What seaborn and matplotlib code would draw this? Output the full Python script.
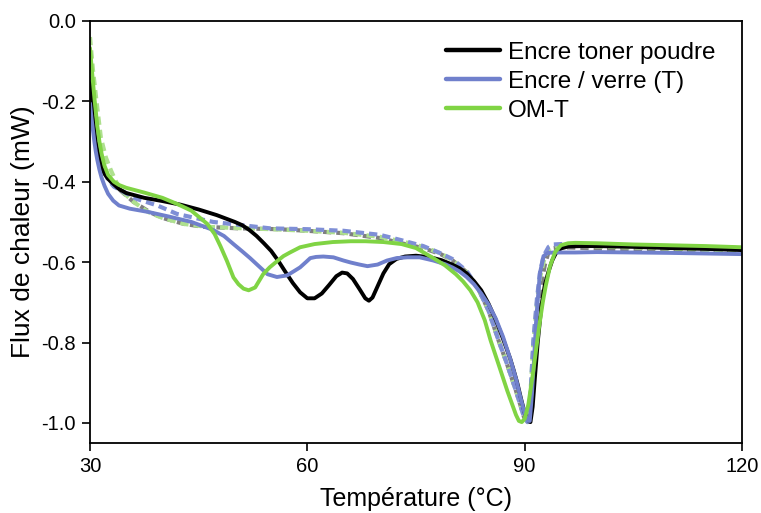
import numpy as np
import pandas as pd
import matplotlib
matplotlib.use("Agg")
import matplotlib.pyplot as plt
import seaborn as sns
from matplotlib.lines import Line2D

# ---- data ----
toner_x = [30, 30.2, 30.4, 30.6, 30.8, 31.0, 31.3, 31.6, 32.0, 32.5, 33.2, 34, 35, 37.5, 40, 42.5, 45,
           47.5, 50, 51, 52, 53, 54, 55, 56, 57, 58, 59, 60, 61, 62, 63, 64, 64.8, 65.5, 66.3, 67.2,
           68, 68.5, 69, 69.7, 70.5, 71.3, 72.3, 73.5, 75, 77, 78.5, 80, 81, 82, 83, 84, 85, 86, 87,
           88, 88.5, 89, 89.5, 90, 90.5, 90.8, 91.1, 91.4, 91.8, 92.3, 92.8, 93.3, 93.8, 94.3, 95,
           96, 98, 100, 105, 110, 115, 120]
toner_y = [-0.155, -0.2, -0.24, -0.275, -0.3, -0.32, -0.345, -0.365, -0.38, -0.393, -0.405, -0.418,
           -0.428, -0.44, -0.448, -0.457, -0.469, -0.483, -0.50, -0.508, -0.52, -0.535, -0.553,
           -0.572, -0.597, -0.625, -0.652, -0.675, -0.69, -0.69, -0.678, -0.657, -0.635, -0.626,
           -0.628, -0.642, -0.667, -0.69, -0.696, -0.688, -0.66, -0.628, -0.605, -0.592, -0.586,
           -0.584, -0.588, -0.595, -0.606, -0.615, -0.628, -0.647, -0.67, -0.703, -0.743, -0.79,
           -0.84, -0.87, -0.902, -0.94, -0.975, -0.995, -0.998, -0.96, -0.89, -0.80, -0.71, -0.655,
           -0.623, -0.596, -0.578, -0.566, -0.561, -0.56, -0.56, -0.562, -0.565, -0.567, -0.57]

verre_x = [30, 30.2, 30.4, 30.6, 30.8, 31, 31.3, 31.6, 32, 32.5, 33.2, 34, 35.5, 38, 41, 44, 45.5, 47,
           48.5, 49.8, 51, 52.1, 53.3, 54.5, 55.8, 57.2, 58.2, 59, 59.8, 60.4, 61.2, 62.2, 63.6, 65,
           66, 67.2, 68.3, 69.7, 71, 72.3, 73.8, 75.5, 77.4, 79, 80, 81, 82, 83, 84, 85, 86, 87, 88,
           88.8, 89.4, 89.9, 90.4, 90.7, 91.0, 91.3, 91.6, 92.1, 92.6, 93.2, 94, 95, 97, 100, 110, 120]
verre_y = [-0.205, -0.24, -0.27, -0.3, -0.325, -0.345, -0.37, -0.39, -0.41, -0.43, -0.447, -0.459,
           -0.467, -0.475, -0.487, -0.50, -0.51, -0.52, -0.535, -0.555, -0.573, -0.59, -0.61,
           -0.63, -0.637, -0.633, -0.622, -0.613, -0.6, -0.59, -0.587, -0.586, -0.588, -0.596,
           -0.601, -0.606, -0.61, -0.606, -0.596, -0.59, -0.588, -0.588, -0.596, -0.605, -0.613,
           -0.623, -0.637, -0.655, -0.678, -0.705, -0.74, -0.785, -0.84, -0.89, -0.935, -0.97,
           -0.995, -0.995, -0.93, -0.84, -0.74, -0.628, -0.585, -0.577, -0.576, -0.576, -0.576,
           -0.575, -0.577, -0.58]

omt_x = [30, 30.2, 30.4, 30.6, 30.8, 31, 31.3, 31.6, 32, 32.5, 33.3, 34, 35, 37.5, 40, 42, 44, 45.2,
         46.2, 47.2, 48, 48.9, 49.8, 50.5, 51.2, 51.9, 52.8, 53.9, 54.8, 55.8, 56.7, 57.6, 59, 61,
         63.5, 66, 68, 70.5, 73, 75, 77.4, 79, 80.5, 81.5, 82.5, 83.5, 84.5, 85.3, 86.5, 87.6, 88.3,
         88.8, 89.2, 89.6, 90.0, 90.5, 91.2, 92, 92.5, 92.9, 93.5, 94.2, 95, 96, 97, 100, 105, 110,
         115, 120]
omt_y = [-0.067, -0.11, -0.15, -0.19, -0.225, -0.26, -0.3, -0.33, -0.36, -0.383, -0.40, -0.408,
         -0.415, -0.427, -0.44, -0.455, -0.472, -0.49, -0.505, -0.53, -0.56, -0.597, -0.638, -0.655,
         -0.666, -0.67, -0.663, -0.63, -0.613, -0.598, -0.585, -0.576, -0.563, -0.555, -0.55,
         -0.548, -0.548, -0.55, -0.555, -0.565, -0.59, -0.608, -0.63, -0.648, -0.67, -0.70, -0.745,
         -0.795, -0.86, -0.92, -0.955, -0.98, -0.995, -0.998, -0.99, -0.955, -0.87, -0.76, -0.7,
         -0.66, -0.61, -0.575, -0.558, -0.553, -0.552, -0.553, -0.556, -0.558, -0.56, -0.563]

toner2_x = [30, 30.3, 30.7, 31.2, 31.8, 32.5, 33.3, 34.1, 36, 38.3, 40, 43, 45.6, 50.7, 56, 60, 65,
            70, 73, 76, 78.4, 80, 82, 83.5, 85, 86.4, 87.5, 88.8, 89.4, 89.9, 90.5, 90.9, 91.3, 91.8,
            92.3, 92.8, 93.3, 94, 95, 97, 100, 110, 120]
toner2_y = [-0.105, -0.17, -0.24, -0.31, -0.36, -0.39, -0.41, -0.42, -0.45, -0.476, -0.49, -0.505,
            -0.512, -0.516, -0.518, -0.522, -0.528, -0.54, -0.553, -0.565, -0.58, -0.595, -0.625,
            -0.663, -0.72, -0.795, -0.85, -0.92, -0.955, -0.985, -0.998, -0.95, -0.85, -0.74,
            -0.655, -0.605, -0.575, -0.565, -0.563, -0.564, -0.566, -0.571, -0.576]

verre2_x = [30, 30.3, 30.7, 31.2, 31.8, 32.5, 33.3, 34.6, 36.5, 39.3, 42, 47, 54.9, 60, 65, 70, 72.9,
            76, 78.4, 80, 82, 83.5, 85, 86.4, 87.5, 88.8, 89.4, 89.9, 90.4, 90.8, 91.2, 91.7, 92.1,
            92.6, 93.3, 94, 95, 97, 100, 110, 120]
verre2_y = [-0.147, -0.21, -0.27, -0.33, -0.37, -0.395, -0.412, -0.425, -0.443, -0.459, -0.48, -0.50,
            -0.516, -0.518, -0.522, -0.532, -0.545, -0.56, -0.578, -0.592, -0.622, -0.663, -0.72,
            -0.795, -0.85, -0.92, -0.955, -0.985, -0.998, -0.93, -0.795, -0.69, -0.628, -0.585,
            -0.562, -0.556, -0.555, -0.556, -0.557, -0.56, -0.565]

omt2_x = [30, 30.4, 30.9, 31.5, 32.2, 32.9, 33.6, 34.5, 36, 38, 40, 43, 46, 50, 55, 60, 65, 70, 73,
          76, 78.4, 80, 82, 83.5, 85, 86.4, 87.5, 88.8, 89.4, 89.9, 90.4, 90.8, 91.2, 91.7, 92.1,
          92.8, 93.5, 94.2, 95, 97, 100, 110, 120]
omt2_y = [-0.04, -0.12, -0.20, -0.29, -0.34, -0.372, -0.40, -0.425, -0.45, -0.475, -0.49, -0.505,
          -0.512, -0.515, -0.518, -0.522, -0.527, -0.537, -0.548, -0.562, -0.578, -0.595, -0.625,
          -0.663, -0.72, -0.795, -0.85, -0.92, -0.955, -0.985, -0.998, -0.93, -0.80, -0.70, -0.64,
          -0.585, -0.565, -0.56, -0.558, -0.559, -0.561, -0.566, -0.572]

labels = ["Encre toner poudre", "Encre / verre (T)", "OM-T"]
x_ticks = [30, 60, 90, 120]
y_ticks = [0.0, -0.2, -0.4, -0.6, -0.8, -1.0]

# ---- style ----
sns.set_style("ticks")
plt.rcParams["font.family"] = ["Liberation Sans", "DejaVu Sans"]
plt.rcParams["axes.unicode_minus"] = False
plt.rcParams["text.color"] = "#000000"
plt.rcParams["axes.labelcolor"] = "#000000"

c_black = "#000000"
c_blue = "#7080CC"
c_green = "#80D444"
c_gray_d = "#7F7F7F"
c_blue_d = "#7F8FD6"
c_green_d = "#AEE08E"

fig = plt.figure(figsize=(7.61, 5.13), dpi=100)
ax = fig.add_axes([90 / 761, 1 - 443 / 513, (742 - 90) / 761, (443 - 21) / 513])

dash_kw = dict(linewidth=3.0, dashes=(2.0, 1.2))
sns.lineplot(x=toner2_x, y=toner2_y, ax=ax, color=c_gray_d, sort=False, estimator=None, **dash_kw)
sns.lineplot(x=omt2_x, y=omt2_y, ax=ax, color=c_green_d, sort=False, estimator=None, **dash_kw)
sns.lineplot(x=verre2_x, y=verre2_y, ax=ax, color=c_blue_d, sort=False, estimator=None, **dash_kw)

solid_kw = dict(linewidth=2.8)
sns.lineplot(x=toner_x, y=toner_y, ax=ax, color=c_black, sort=False, estimator=None, **solid_kw)
sns.lineplot(x=verre_x, y=verre_y, ax=ax, color=c_blue, sort=False, estimator=None, **solid_kw)
sns.lineplot(x=omt_x, y=omt_y, ax=ax, color=c_green, sort=False, estimator=None, **solid_kw)

ax.set_xlim(30, 120)
ax.set_ylim(-1.05, 0.0)
ax.set_xticks(x_ticks)
ax.set_xticklabels([str(v) for v in x_ticks])
ax.set_yticks(y_ticks)
ax.set_yticklabels([f"{v:.1f}" for v in y_ticks])
ax.tick_params(axis="both", direction="out", length=6, width=1.2, labelsize=14.5, colors="#000000",
               pad=4)
for s in ax.spines.values():
    s.set_visible(True)
    s.set_color("#000000")
    s.set_linewidth(1.3)

ax.set_xlabel("Température (°C)", fontsize=18, labelpad=8, color="#000000")
ax.set_ylabel("Flux de chaleur (mW)", fontsize=19, labelpad=5, color="#000000")

handles = [Line2D([0], [0], color=c, lw=3.2) for c in (c_black, c_blue, c_green)]
ax.legend(handles, labels, loc="upper right", bbox_to_anchor=(0.982, 0.985), frameon=False,
          fontsize=17.5, handlelength=2.2, handletextpad=0.35, labelspacing=0.28, borderaxespad=0.2,
          labelcolor="#000000")

fig.savefig("out.png", dpi=100)
